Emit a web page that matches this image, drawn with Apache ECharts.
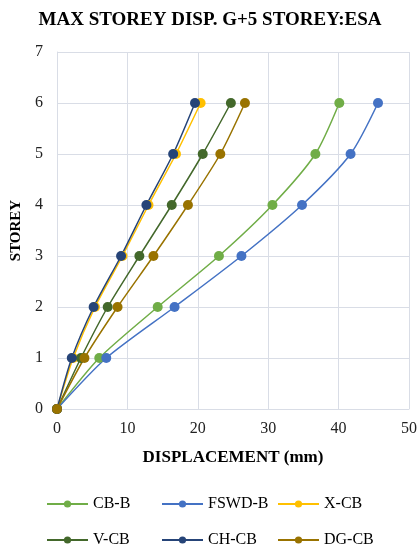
<!DOCTYPE html>
<html>
<head>
<meta charset="utf-8">
<script src="https://cdn.jsdelivr.net/npm/echarts@6/dist/echarts.min.js"></script>
<style>
  html, body { margin: 0; padding: 0; background: #fff; }
  #main { width: 420px; height: 547px; }
</style>
</head>
<body>
<div id="main"></div>
<script>
// storey levels and displacements (mm)
var storeys = [0, 1, 2, 3, 4, 5, 6];
var cbB   = [0, 6.0, 14.3, 23.0, 30.6, 36.7, 40.1];
var fswdB = [0, 7.0, 16.7, 26.2, 34.8, 41.7, 45.6];
var xCB   = [0, 2.3, 5.4, 9.3, 13.0, 16.9, 20.4];
var vCB   = [0, 3.4, 7.2, 11.7, 16.3, 20.7, 24.7];
var chCB  = [0, 2.1, 5.2, 9.1, 12.7, 16.5, 19.6];
var dgCB  = [0, 3.9, 8.6, 13.7, 18.6, 23.2, 26.7];
var xTicks = [0, 10, 20, 30, 40, 50];
var yTicks = [0, 1, 2, 3, 4, 5, 6, 7];

(function () {
  var myChart = echarts.init(document.getElementById('main'));
  var serif = '"Liberation Serif", "Times New Roman", serif';

  function pairs(xs) {
    return xs.map(function (v, i) { return [v, storeys[i]]; });
  }
  function line(name, xs, color) {
    return {
      name: name,
      type: 'line',
      smooth: 0.25,
      data: pairs(xs),
      symbol: 'circle',
      symbolSize: 10,
      lineStyle: { color: color, width: 1.5 },
      itemStyle: { color: color }
    };
  }
  // one legend per item so the columns line up like the original
  function legendItem(name, left, top) {
    return {
      left: left,
      top: top,
      itemWidth: 41,
      itemHeight: 9,
      itemGap: 0,
      data: [name],
      textStyle: { fontFamily: serif, fontSize: 16, color: '#000' }
    };
  }

  var option = {
    animation: false,
    title: {
      text: 'MAX STOREY DISP. G+5 STOREY:ESA',
      left: 'center',
      top: 6,
      textStyle: { fontFamily: serif, fontSize: 19, fontWeight: 'bold', color: '#000' }
    },
    legend: [
      legendItem('CB-B', 41, 491),
      legendItem('FSWD-B', 156, 491),
      legendItem('X-CB', 272, 491),
      legendItem('V-CB', 41, 527),
      legendItem('CH-CB', 156, 527),
      legendItem('DG-CB', 272, 527)
    ],
    grid: { left: 57, right: 8, top: 52, bottom: 138 },
    xAxis: {
      type: 'value',
      min: xTicks[0],
      max: xTicks[xTicks.length - 1],
      interval: 10,
      name: 'DISPLACEMENT (mm)',
      nameLocation: 'middle',
      nameGap: 40,
      nameTextStyle: { fontFamily: serif, fontSize: 17, fontWeight: 'bold', color: '#000' },
      axisLine: { show: true, lineStyle: { color: '#d9dde6' } },
      axisTick: { show: false },
      axisLabel: { fontFamily: serif, fontSize: 16, color: '#222', margin: 12 },
      splitLine: { show: true, lineStyle: { color: '#d9dde6' } }
    },
    yAxis: {
      type: 'value',
      min: yTicks[0],
      max: yTicks[yTicks.length - 1],
      interval: 1,
      name: 'STOREY',
      nameLocation: 'middle',
      nameGap: 33,
      nameTextStyle: { fontFamily: serif, fontSize: 15, fontWeight: 'bold', color: '#000' },
      axisLine: { show: true, lineStyle: { color: '#d9dde6' } },
      axisTick: { show: false },
      axisLabel: { fontFamily: serif, fontSize: 16, color: '#222', margin: 14 },
      splitLine: { show: true, lineStyle: { color: '#d9dde6' } }
    },
    series: [
      line('CB-B', cbB, '#70ad47'),
      line('FSWD-B', fswdB, '#4472c4'),
      line('X-CB', xCB, '#ffc000'),
      line('V-CB', vCB, '#43682b'),
      line('CH-CB', chCB, '#264478'),
      line('DG-CB', dgCB, '#997300')
    ]
  };
  myChart.setOption(option);
})();
</script>
</body>
</html>
